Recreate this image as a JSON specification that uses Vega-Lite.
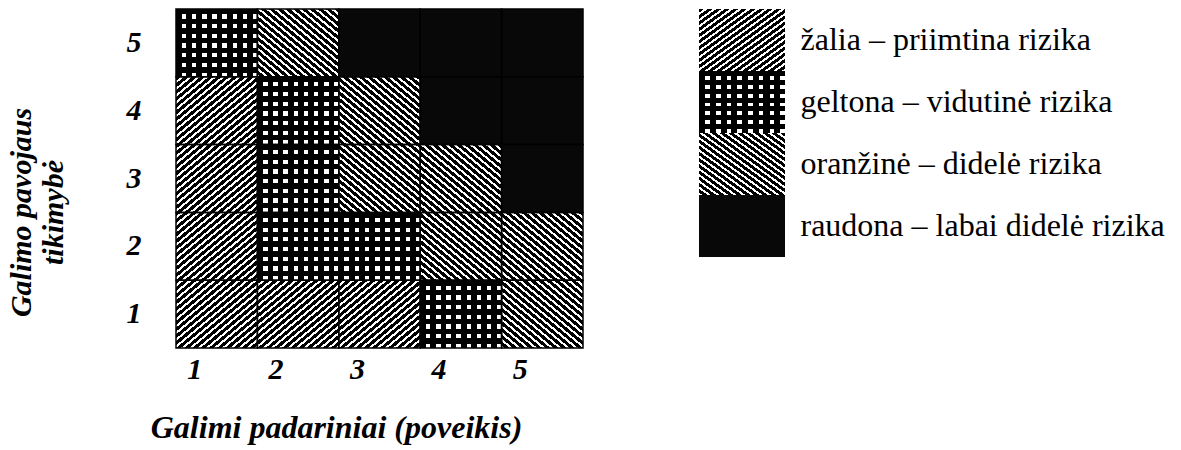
{
  "$schema": "https://vega.github.io/schema/vega-lite/v6.json",
  "padding": {"left": 5, "top": 8, "right": 5, "bottom": 5},
  "background": "white",
  "spacing": 115,
  "config": {
    "view": {"stroke": null},
    "font": "Liberation Serif, Times New Roman, serif",
    "axis": {"domain": false, "ticks": false, "grid": false, "labelColor": "#000", "titleColor": "#000", "labelFont": "Liberation Serif, Times New Roman, serif", "titleFont": "Liberation Serif, Times New Roman, serif"}
  },
  "datasets": {
    "cells": [
      {"impact": 1, "likelihood": 5, "risk": "geltona"},
      {"impact": 2, "likelihood": 5, "risk": "oranžinė"},
      {"impact": 3, "likelihood": 5, "risk": "raudona"},
      {"impact": 4, "likelihood": 5, "risk": "raudona"},
      {"impact": 5, "likelihood": 5, "risk": "raudona"},
      {"impact": 1, "likelihood": 4, "risk": "žalia"},
      {"impact": 2, "likelihood": 4, "risk": "geltona"},
      {"impact": 3, "likelihood": 4, "risk": "oranžinė"},
      {"impact": 4, "likelihood": 4, "risk": "raudona"},
      {"impact": 5, "likelihood": 4, "risk": "raudona"},
      {"impact": 1, "likelihood": 3, "risk": "žalia"},
      {"impact": 2, "likelihood": 3, "risk": "geltona"},
      {"impact": 3, "likelihood": 3, "risk": "oranžinė"},
      {"impact": 4, "likelihood": 3, "risk": "oranžinė"},
      {"impact": 5, "likelihood": 3, "risk": "raudona"},
      {"impact": 1, "likelihood": 2, "risk": "žalia"},
      {"impact": 2, "likelihood": 2, "risk": "geltona"},
      {"impact": 3, "likelihood": 2, "risk": "geltona"},
      {"impact": 4, "likelihood": 2, "risk": "oranžinė"},
      {"impact": 5, "likelihood": 2, "risk": "oranžinė"},
      {"impact": 1, "likelihood": 1, "risk": "žalia"},
      {"impact": 2, "likelihood": 1, "risk": "žalia"},
      {"impact": 3, "likelihood": 1, "risk": "žalia"},
      {"impact": 4, "likelihood": 1, "risk": "geltona"},
      {"impact": 5, "likelihood": 1, "risk": "oranžinė"}
    ],
    "legend": [
      {"risk": "žalia", "label": "žalia – priimtina rizika"},
      {"risk": "geltona", "label": "geltona – vidutinė rizika"},
      {"risk": "oranžinė", "label": "oranžinė – didelė  rizika"},
      {"risk": "raudona", "label": "raudona – labai didelė rizika"}
    ]
  },
  "hconcat": [
    {
      "width": 407,
      "height": 339,
      "data": {"name": "cells"},
      "encoding": {
        "x": {"field": "impact", "type": "ordinal", "scale": {"domain": [1, 2, 3, 4, 5]},
          "axis": {"title": "Galimi padariniai (poveikis)", "labelAngle": 0, "labelFontSize": 30, "labelFontWeight": "bold", "labelFontStyle": "italic", "labelOffset": -22, "labelPadding": 6, "titleFontSize": 32, "titleFontWeight": "bold", "titleFontStyle": "italic", "titleX": 160, "titleY": 64}},
        "y": {"field": "likelihood", "type": "ordinal", "scale": {"domain": [5, 4, 3, 2, 1]},
          "axis": {"title": ["Galimo pavojaus", "tikimybė"], "labelFontSize": 30, "labelFontWeight": "bold", "labelFontStyle": "italic", "labelPadding": 35, "titleFontSize": 30, "titleFontWeight": "bold", "titleFontStyle": "italic", "titleLineHeight": 32, "titleX": -140, "titleY": 203, "titleBaseline": "bottom"}}
      },
      "layer": [
        {"transform": [{"filter": "datum.risk === 'žalia'"}], "mark": {"type": "rect", "fill": {"gradient": "linear", "x1": 0, "y1": 0, "x2": 1, "y2": 1, "stops": [
        {"offset":0,"color":"#000"},{"offset":0.03,"color":"#000"},{"offset":0.03,"color":"#fff"},{"offset":0.05,"color":"#fff"},
        {"offset":0.05,"color":"#000"},{"offset":0.08,"color":"#000"},{"offset":0.08,"color":"#fff"},{"offset":0.1,"color":"#fff"},
        {"offset":0.1,"color":"#000"},{"offset":0.13,"color":"#000"},{"offset":0.13,"color":"#fff"},{"offset":0.15,"color":"#fff"},
        {"offset":0.15,"color":"#000"},{"offset":0.18,"color":"#000"},{"offset":0.18,"color":"#fff"},{"offset":0.2,"color":"#fff"},
        {"offset":0.2,"color":"#000"},{"offset":0.23,"color":"#000"},{"offset":0.23,"color":"#fff"},{"offset":0.25,"color":"#fff"},
        {"offset":0.25,"color":"#000"},{"offset":0.28,"color":"#000"},{"offset":0.28,"color":"#fff"},{"offset":0.3,"color":"#fff"},
        {"offset":0.3,"color":"#000"},{"offset":0.33,"color":"#000"},{"offset":0.33,"color":"#fff"},{"offset":0.35,"color":"#fff"},
        {"offset":0.35,"color":"#000"},{"offset":0.38,"color":"#000"},{"offset":0.38,"color":"#fff"},{"offset":0.4,"color":"#fff"},
        {"offset":0.4,"color":"#000"},{"offset":0.43,"color":"#000"},{"offset":0.43,"color":"#fff"},{"offset":0.45,"color":"#fff"},
        {"offset":0.45,"color":"#000"},{"offset":0.48,"color":"#000"},{"offset":0.48,"color":"#fff"},{"offset":0.5,"color":"#fff"},
        {"offset":0.5,"color":"#000"},{"offset":0.53,"color":"#000"},{"offset":0.53,"color":"#fff"},{"offset":0.55,"color":"#fff"},
        {"offset":0.55,"color":"#000"},{"offset":0.58,"color":"#000"},{"offset":0.58,"color":"#fff"},{"offset":0.6,"color":"#fff"},
        {"offset":0.6,"color":"#000"},{"offset":0.63,"color":"#000"},{"offset":0.63,"color":"#fff"},{"offset":0.65,"color":"#fff"},
        {"offset":0.65,"color":"#000"},{"offset":0.68,"color":"#000"},{"offset":0.68,"color":"#fff"},{"offset":0.7,"color":"#fff"},
        {"offset":0.7,"color":"#000"},{"offset":0.73,"color":"#000"},{"offset":0.73,"color":"#fff"},{"offset":0.75,"color":"#fff"},
        {"offset":0.75,"color":"#000"},{"offset":0.78,"color":"#000"},{"offset":0.78,"color":"#fff"},{"offset":0.8,"color":"#fff"},
        {"offset":0.8,"color":"#000"},{"offset":0.83,"color":"#000"},{"offset":0.83,"color":"#fff"},{"offset":0.85,"color":"#fff"},
        {"offset":0.85,"color":"#000"},{"offset":0.88,"color":"#000"},{"offset":0.88,"color":"#fff"},{"offset":0.9,"color":"#fff"},
        {"offset":0.9,"color":"#000"},{"offset":0.93,"color":"#000"},{"offset":0.93,"color":"#fff"},{"offset":0.95,"color":"#fff"},
        {"offset":0.95,"color":"#000"},{"offset":0.98,"color":"#000"},{"offset":0.98,"color":"#fff"},{"offset":1,"color":"#fff"}]}}},
        {"transform": [{"filter": "datum.risk === 'oranžinė'"}], "mark": {"type": "rect", "fill": {"gradient": "linear", "x1": 1, "y1": 0, "x2": 0, "y2": 1, "stops": [
        {"offset":0,"color":"#000"},{"offset":0.03,"color":"#000"},{"offset":0.03,"color":"#fff"},{"offset":0.05,"color":"#fff"},
        {"offset":0.05,"color":"#000"},{"offset":0.08,"color":"#000"},{"offset":0.08,"color":"#fff"},{"offset":0.1,"color":"#fff"},
        {"offset":0.1,"color":"#000"},{"offset":0.13,"color":"#000"},{"offset":0.13,"color":"#fff"},{"offset":0.15,"color":"#fff"},
        {"offset":0.15,"color":"#000"},{"offset":0.18,"color":"#000"},{"offset":0.18,"color":"#fff"},{"offset":0.2,"color":"#fff"},
        {"offset":0.2,"color":"#000"},{"offset":0.23,"color":"#000"},{"offset":0.23,"color":"#fff"},{"offset":0.25,"color":"#fff"},
        {"offset":0.25,"color":"#000"},{"offset":0.28,"color":"#000"},{"offset":0.28,"color":"#fff"},{"offset":0.3,"color":"#fff"},
        {"offset":0.3,"color":"#000"},{"offset":0.33,"color":"#000"},{"offset":0.33,"color":"#fff"},{"offset":0.35,"color":"#fff"},
        {"offset":0.35,"color":"#000"},{"offset":0.38,"color":"#000"},{"offset":0.38,"color":"#fff"},{"offset":0.4,"color":"#fff"},
        {"offset":0.4,"color":"#000"},{"offset":0.43,"color":"#000"},{"offset":0.43,"color":"#fff"},{"offset":0.45,"color":"#fff"},
        {"offset":0.45,"color":"#000"},{"offset":0.48,"color":"#000"},{"offset":0.48,"color":"#fff"},{"offset":0.5,"color":"#fff"},
        {"offset":0.5,"color":"#000"},{"offset":0.53,"color":"#000"},{"offset":0.53,"color":"#fff"},{"offset":0.55,"color":"#fff"},
        {"offset":0.55,"color":"#000"},{"offset":0.58,"color":"#000"},{"offset":0.58,"color":"#fff"},{"offset":0.6,"color":"#fff"},
        {"offset":0.6,"color":"#000"},{"offset":0.63,"color":"#000"},{"offset":0.63,"color":"#fff"},{"offset":0.65,"color":"#fff"},
        {"offset":0.65,"color":"#000"},{"offset":0.68,"color":"#000"},{"offset":0.68,"color":"#fff"},{"offset":0.7,"color":"#fff"},
        {"offset":0.7,"color":"#000"},{"offset":0.73,"color":"#000"},{"offset":0.73,"color":"#fff"},{"offset":0.75,"color":"#fff"},
        {"offset":0.75,"color":"#000"},{"offset":0.78,"color":"#000"},{"offset":0.78,"color":"#fff"},{"offset":0.8,"color":"#fff"},
        {"offset":0.8,"color":"#000"},{"offset":0.83,"color":"#000"},{"offset":0.83,"color":"#fff"},{"offset":0.85,"color":"#fff"},
        {"offset":0.85,"color":"#000"},{"offset":0.88,"color":"#000"},{"offset":0.88,"color":"#fff"},{"offset":0.9,"color":"#fff"},
        {"offset":0.9,"color":"#000"},{"offset":0.93,"color":"#000"},{"offset":0.93,"color":"#fff"},{"offset":0.95,"color":"#fff"},
        {"offset":0.95,"color":"#000"},{"offset":0.98,"color":"#000"},{"offset":0.98,"color":"#fff"},{"offset":1,"color":"#fff"}]}}},
        {"transform": [{"filter": "datum.risk === 'geltona'"}], "mark": {"type": "rect", "fill": "#fff"}},
        {"transform": [{"filter": "datum.risk === 'geltona'"}], "mark": {"type": "rect", "fill": {"gradient": "linear", "x1": 0, "y1": 0, "x2": 1, "y2": 0, "stops": [
        {"offset":0,"color":"#000"},{"offset":0.07,"color":"#000"},{"offset":0.07,"color":"rgba(0,0,0,0)"},{"offset":0.125,"color":"rgba(0,0,0,0)"},
        {"offset":0.125,"color":"#000"},{"offset":0.195,"color":"#000"},{"offset":0.195,"color":"rgba(0,0,0,0)"},{"offset":0.25,"color":"rgba(0,0,0,0)"},
        {"offset":0.25,"color":"#000"},{"offset":0.32,"color":"#000"},{"offset":0.32,"color":"rgba(0,0,0,0)"},{"offset":0.375,"color":"rgba(0,0,0,0)"},
        {"offset":0.375,"color":"#000"},{"offset":0.445,"color":"#000"},{"offset":0.445,"color":"rgba(0,0,0,0)"},{"offset":0.5,"color":"rgba(0,0,0,0)"},
        {"offset":0.5,"color":"#000"},{"offset":0.57,"color":"#000"},{"offset":0.57,"color":"rgba(0,0,0,0)"},{"offset":0.625,"color":"rgba(0,0,0,0)"},
        {"offset":0.625,"color":"#000"},{"offset":0.695,"color":"#000"},{"offset":0.695,"color":"rgba(0,0,0,0)"},{"offset":0.75,"color":"rgba(0,0,0,0)"},
        {"offset":0.75,"color":"#000"},{"offset":0.82,"color":"#000"},{"offset":0.82,"color":"rgba(0,0,0,0)"},{"offset":0.875,"color":"rgba(0,0,0,0)"},
        {"offset":0.875,"color":"#000"},{"offset":0.945,"color":"#000"},{"offset":0.945,"color":"rgba(0,0,0,0)"},{"offset":1,"color":"rgba(0,0,0,0)"}]}}},
        {"transform": [{"filter": "datum.risk === 'geltona'"}], "mark": {"type": "rect", "fill": {"gradient": "linear", "x1": 0, "y1": 0, "x2": 0, "y2": 1, "stops": [
        {"offset":0,"color":"#000"},{"offset":0.08,"color":"#000"},{"offset":0.08,"color":"rgba(0,0,0,0)"},{"offset":0.1429,"color":"rgba(0,0,0,0)"},
        {"offset":0.1429,"color":"#000"},{"offset":0.2229,"color":"#000"},{"offset":0.2229,"color":"rgba(0,0,0,0)"},{"offset":0.2857,"color":"rgba(0,0,0,0)"},
        {"offset":0.2857,"color":"#000"},{"offset":0.3657,"color":"#000"},{"offset":0.3657,"color":"rgba(0,0,0,0)"},{"offset":0.4286,"color":"rgba(0,0,0,0)"},
        {"offset":0.4286,"color":"#000"},{"offset":0.5086,"color":"#000"},{"offset":0.5086,"color":"rgba(0,0,0,0)"},{"offset":0.5714,"color":"rgba(0,0,0,0)"},
        {"offset":0.5714,"color":"#000"},{"offset":0.6514,"color":"#000"},{"offset":0.6514,"color":"rgba(0,0,0,0)"},{"offset":0.7143,"color":"rgba(0,0,0,0)"},
        {"offset":0.7143,"color":"#000"},{"offset":0.7943,"color":"#000"},{"offset":0.7943,"color":"rgba(0,0,0,0)"},{"offset":0.8571,"color":"rgba(0,0,0,0)"},
        {"offset":0.8571,"color":"#000"},{"offset":0.9371,"color":"#000"},{"offset":0.9371,"color":"rgba(0,0,0,0)"},{"offset":1,"color":"rgba(0,0,0,0)"}]}}},
        {"transform": [{"filter": "datum.risk === 'raudona'"}], "mark": {"type": "rect", "fill": "#080808"}},
        {"mark": {"type": "rect", "filled": false, "color": "#000", "strokeWidth": 1.5}}
      ]
    },
    {
      "width": 86,
      "height": 248,
      "data": {"name": "legend"},
      "encoding": {
        "y": {"field": "label", "type": "nominal",
          "scale": {"domain": ["žalia – priimtina rizika", "geltona – vidutinė rizika", "oranžinė – didelė  rizika", "raudona – labai didelė rizika"]},
          "axis": {"orient": "right", "title": null, "labelFontSize": 32, "labelPadding": 15, "labelLimit": 0}}
      },
      "layer": [
        {"transform": [{"filter": "datum.risk === 'žalia'"}], "mark": {"type": "rect", "fill": {"gradient": "linear", "x1": 0, "y1": 0, "x2": 1, "y2": 1, "stops": [
        {"offset":0,"color":"#000"},{"offset":0.03,"color":"#000"},{"offset":0.03,"color":"#fff"},{"offset":0.05,"color":"#fff"},
        {"offset":0.05,"color":"#000"},{"offset":0.08,"color":"#000"},{"offset":0.08,"color":"#fff"},{"offset":0.1,"color":"#fff"},
        {"offset":0.1,"color":"#000"},{"offset":0.13,"color":"#000"},{"offset":0.13,"color":"#fff"},{"offset":0.15,"color":"#fff"},
        {"offset":0.15,"color":"#000"},{"offset":0.18,"color":"#000"},{"offset":0.18,"color":"#fff"},{"offset":0.2,"color":"#fff"},
        {"offset":0.2,"color":"#000"},{"offset":0.23,"color":"#000"},{"offset":0.23,"color":"#fff"},{"offset":0.25,"color":"#fff"},
        {"offset":0.25,"color":"#000"},{"offset":0.28,"color":"#000"},{"offset":0.28,"color":"#fff"},{"offset":0.3,"color":"#fff"},
        {"offset":0.3,"color":"#000"},{"offset":0.33,"color":"#000"},{"offset":0.33,"color":"#fff"},{"offset":0.35,"color":"#fff"},
        {"offset":0.35,"color":"#000"},{"offset":0.38,"color":"#000"},{"offset":0.38,"color":"#fff"},{"offset":0.4,"color":"#fff"},
        {"offset":0.4,"color":"#000"},{"offset":0.43,"color":"#000"},{"offset":0.43,"color":"#fff"},{"offset":0.45,"color":"#fff"},
        {"offset":0.45,"color":"#000"},{"offset":0.48,"color":"#000"},{"offset":0.48,"color":"#fff"},{"offset":0.5,"color":"#fff"},
        {"offset":0.5,"color":"#000"},{"offset":0.53,"color":"#000"},{"offset":0.53,"color":"#fff"},{"offset":0.55,"color":"#fff"},
        {"offset":0.55,"color":"#000"},{"offset":0.58,"color":"#000"},{"offset":0.58,"color":"#fff"},{"offset":0.6,"color":"#fff"},
        {"offset":0.6,"color":"#000"},{"offset":0.63,"color":"#000"},{"offset":0.63,"color":"#fff"},{"offset":0.65,"color":"#fff"},
        {"offset":0.65,"color":"#000"},{"offset":0.68,"color":"#000"},{"offset":0.68,"color":"#fff"},{"offset":0.7,"color":"#fff"},
        {"offset":0.7,"color":"#000"},{"offset":0.73,"color":"#000"},{"offset":0.73,"color":"#fff"},{"offset":0.75,"color":"#fff"},
        {"offset":0.75,"color":"#000"},{"offset":0.78,"color":"#000"},{"offset":0.78,"color":"#fff"},{"offset":0.8,"color":"#fff"},
        {"offset":0.8,"color":"#000"},{"offset":0.83,"color":"#000"},{"offset":0.83,"color":"#fff"},{"offset":0.85,"color":"#fff"},
        {"offset":0.85,"color":"#000"},{"offset":0.88,"color":"#000"},{"offset":0.88,"color":"#fff"},{"offset":0.9,"color":"#fff"},
        {"offset":0.9,"color":"#000"},{"offset":0.93,"color":"#000"},{"offset":0.93,"color":"#fff"},{"offset":0.95,"color":"#fff"},
        {"offset":0.95,"color":"#000"},{"offset":0.98,"color":"#000"},{"offset":0.98,"color":"#fff"},{"offset":1,"color":"#fff"}]}}},
        {"transform": [{"filter": "datum.risk === 'oranžinė'"}], "mark": {"type": "rect", "fill": {"gradient": "linear", "x1": 1, "y1": 0, "x2": 0, "y2": 1, "stops": [
        {"offset":0,"color":"#000"},{"offset":0.03,"color":"#000"},{"offset":0.03,"color":"#fff"},{"offset":0.05,"color":"#fff"},
        {"offset":0.05,"color":"#000"},{"offset":0.08,"color":"#000"},{"offset":0.08,"color":"#fff"},{"offset":0.1,"color":"#fff"},
        {"offset":0.1,"color":"#000"},{"offset":0.13,"color":"#000"},{"offset":0.13,"color":"#fff"},{"offset":0.15,"color":"#fff"},
        {"offset":0.15,"color":"#000"},{"offset":0.18,"color":"#000"},{"offset":0.18,"color":"#fff"},{"offset":0.2,"color":"#fff"},
        {"offset":0.2,"color":"#000"},{"offset":0.23,"color":"#000"},{"offset":0.23,"color":"#fff"},{"offset":0.25,"color":"#fff"},
        {"offset":0.25,"color":"#000"},{"offset":0.28,"color":"#000"},{"offset":0.28,"color":"#fff"},{"offset":0.3,"color":"#fff"},
        {"offset":0.3,"color":"#000"},{"offset":0.33,"color":"#000"},{"offset":0.33,"color":"#fff"},{"offset":0.35,"color":"#fff"},
        {"offset":0.35,"color":"#000"},{"offset":0.38,"color":"#000"},{"offset":0.38,"color":"#fff"},{"offset":0.4,"color":"#fff"},
        {"offset":0.4,"color":"#000"},{"offset":0.43,"color":"#000"},{"offset":0.43,"color":"#fff"},{"offset":0.45,"color":"#fff"},
        {"offset":0.45,"color":"#000"},{"offset":0.48,"color":"#000"},{"offset":0.48,"color":"#fff"},{"offset":0.5,"color":"#fff"},
        {"offset":0.5,"color":"#000"},{"offset":0.53,"color":"#000"},{"offset":0.53,"color":"#fff"},{"offset":0.55,"color":"#fff"},
        {"offset":0.55,"color":"#000"},{"offset":0.58,"color":"#000"},{"offset":0.58,"color":"#fff"},{"offset":0.6,"color":"#fff"},
        {"offset":0.6,"color":"#000"},{"offset":0.63,"color":"#000"},{"offset":0.63,"color":"#fff"},{"offset":0.65,"color":"#fff"},
        {"offset":0.65,"color":"#000"},{"offset":0.68,"color":"#000"},{"offset":0.68,"color":"#fff"},{"offset":0.7,"color":"#fff"},
        {"offset":0.7,"color":"#000"},{"offset":0.73,"color":"#000"},{"offset":0.73,"color":"#fff"},{"offset":0.75,"color":"#fff"},
        {"offset":0.75,"color":"#000"},{"offset":0.78,"color":"#000"},{"offset":0.78,"color":"#fff"},{"offset":0.8,"color":"#fff"},
        {"offset":0.8,"color":"#000"},{"offset":0.83,"color":"#000"},{"offset":0.83,"color":"#fff"},{"offset":0.85,"color":"#fff"},
        {"offset":0.85,"color":"#000"},{"offset":0.88,"color":"#000"},{"offset":0.88,"color":"#fff"},{"offset":0.9,"color":"#fff"},
        {"offset":0.9,"color":"#000"},{"offset":0.93,"color":"#000"},{"offset":0.93,"color":"#fff"},{"offset":0.95,"color":"#fff"},
        {"offset":0.95,"color":"#000"},{"offset":0.98,"color":"#000"},{"offset":0.98,"color":"#fff"},{"offset":1,"color":"#fff"}]}}},
        {"transform": [{"filter": "datum.risk === 'geltona'"}], "mark": {"type": "rect", "fill": "#fff"}},
        {"transform": [{"filter": "datum.risk === 'geltona'"}], "mark": {"type": "rect", "fill": {"gradient": "linear", "x1": 0, "y1": 0, "x2": 1, "y2": 0, "stops": [
        {"offset":0,"color":"#000"},{"offset":0.07,"color":"#000"},{"offset":0.07,"color":"rgba(0,0,0,0)"},{"offset":0.125,"color":"rgba(0,0,0,0)"},
        {"offset":0.125,"color":"#000"},{"offset":0.195,"color":"#000"},{"offset":0.195,"color":"rgba(0,0,0,0)"},{"offset":0.25,"color":"rgba(0,0,0,0)"},
        {"offset":0.25,"color":"#000"},{"offset":0.32,"color":"#000"},{"offset":0.32,"color":"rgba(0,0,0,0)"},{"offset":0.375,"color":"rgba(0,0,0,0)"},
        {"offset":0.375,"color":"#000"},{"offset":0.445,"color":"#000"},{"offset":0.445,"color":"rgba(0,0,0,0)"},{"offset":0.5,"color":"rgba(0,0,0,0)"},
        {"offset":0.5,"color":"#000"},{"offset":0.57,"color":"#000"},{"offset":0.57,"color":"rgba(0,0,0,0)"},{"offset":0.625,"color":"rgba(0,0,0,0)"},
        {"offset":0.625,"color":"#000"},{"offset":0.695,"color":"#000"},{"offset":0.695,"color":"rgba(0,0,0,0)"},{"offset":0.75,"color":"rgba(0,0,0,0)"},
        {"offset":0.75,"color":"#000"},{"offset":0.82,"color":"#000"},{"offset":0.82,"color":"rgba(0,0,0,0)"},{"offset":0.875,"color":"rgba(0,0,0,0)"},
        {"offset":0.875,"color":"#000"},{"offset":0.945,"color":"#000"},{"offset":0.945,"color":"rgba(0,0,0,0)"},{"offset":1,"color":"rgba(0,0,0,0)"}]}}},
        {"transform": [{"filter": "datum.risk === 'geltona'"}], "mark": {"type": "rect", "fill": {"gradient": "linear", "x1": 0, "y1": 0, "x2": 0, "y2": 1, "stops": [
        {"offset":0,"color":"#000"},{"offset":0.08,"color":"#000"},{"offset":0.08,"color":"rgba(0,0,0,0)"},{"offset":0.1429,"color":"rgba(0,0,0,0)"},
        {"offset":0.1429,"color":"#000"},{"offset":0.2229,"color":"#000"},{"offset":0.2229,"color":"rgba(0,0,0,0)"},{"offset":0.2857,"color":"rgba(0,0,0,0)"},
        {"offset":0.2857,"color":"#000"},{"offset":0.3657,"color":"#000"},{"offset":0.3657,"color":"rgba(0,0,0,0)"},{"offset":0.4286,"color":"rgba(0,0,0,0)"},
        {"offset":0.4286,"color":"#000"},{"offset":0.5086,"color":"#000"},{"offset":0.5086,"color":"rgba(0,0,0,0)"},{"offset":0.5714,"color":"rgba(0,0,0,0)"},
        {"offset":0.5714,"color":"#000"},{"offset":0.6514,"color":"#000"},{"offset":0.6514,"color":"rgba(0,0,0,0)"},{"offset":0.7143,"color":"rgba(0,0,0,0)"},
        {"offset":0.7143,"color":"#000"},{"offset":0.7943,"color":"#000"},{"offset":0.7943,"color":"rgba(0,0,0,0)"},{"offset":0.8571,"color":"rgba(0,0,0,0)"},
        {"offset":0.8571,"color":"#000"},{"offset":0.9371,"color":"#000"},{"offset":0.9371,"color":"rgba(0,0,0,0)"},{"offset":1,"color":"rgba(0,0,0,0)"}]}}},
        {"transform": [{"filter": "datum.risk === 'raudona'"}], "mark": {"type": "rect", "fill": "#080808"}}
      ]
    }
  ]
}
